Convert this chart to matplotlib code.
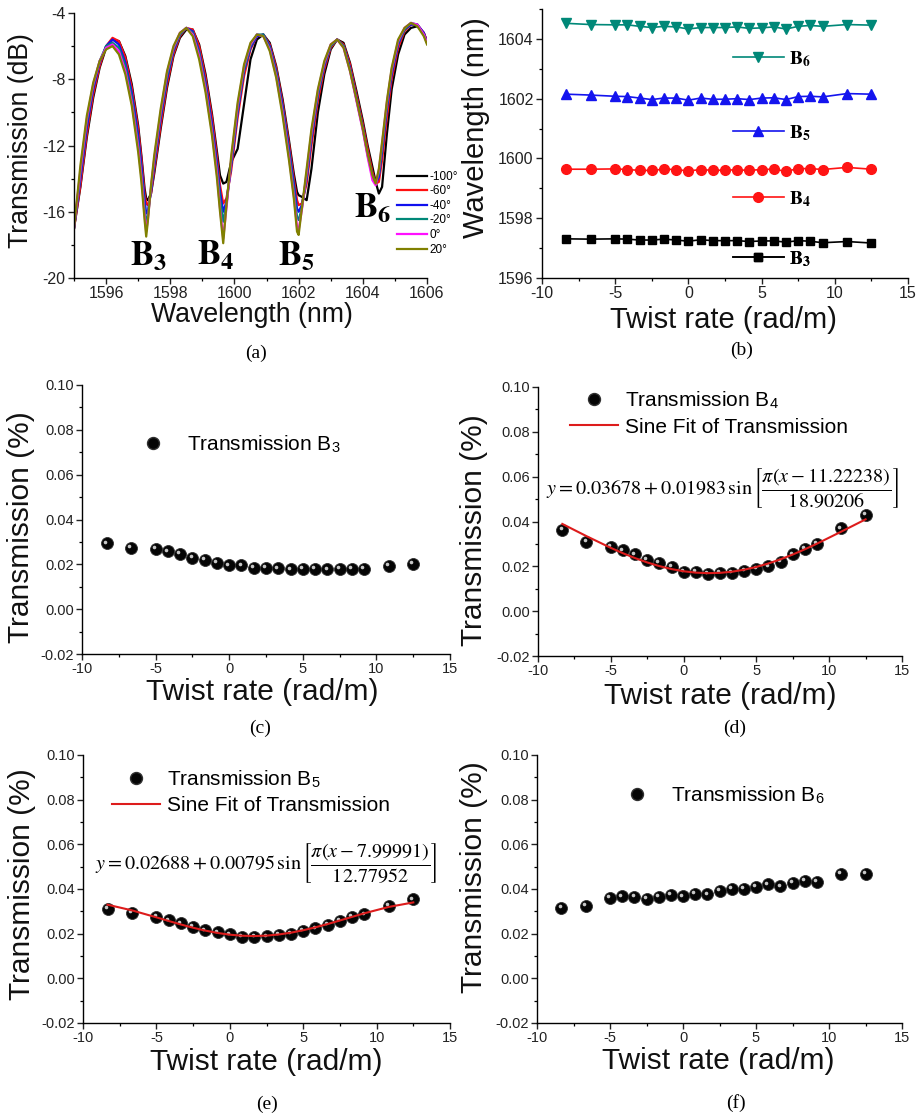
import matplotlib
matplotlib.use("Agg")
import numpy as np
import matplotlib.pyplot as plt
from matplotlib.lines import Line2D
from matplotlib.ticker import MultipleLocator, FormatStrFormatter
from matplotlib.transforms import offset_copy

plt.rcParams["font.family"] = ["Liberation Sans", "DejaVu Sans"]
plt.rcParams["mathtext.fontset"] = "stix"
plt.rcParams["axes.unicode_minus"] = False

# (a) transmission spectra for several twist angles
wavelength = [1595.0, 1595.2, 1595.4, 1595.6, 1595.8, 1596.0, 1596.2, 1596.4, 1596.6, 1596.8,
              1597.0, 1597.1, 1597.2, 1597.25, 1597.3, 1597.4, 1597.5, 1597.7, 1597.9, 1598.1,
              1598.3, 1598.5, 1598.7, 1598.9, 1599.1, 1599.3, 1599.45, 1599.55, 1599.65, 1599.75,
              1599.9, 1600.1, 1600.3, 1600.5, 1600.7, 1600.9, 1601.1, 1601.3, 1601.5, 1601.7,
              1601.85, 1601.95, 1602.0, 1602.1, 1602.25, 1602.4, 1602.6, 1602.8, 1603.0, 1603.2,
              1603.4, 1603.6, 1603.8, 1604.0, 1604.15, 1604.3, 1604.4, 1604.5, 1604.6, 1604.75,
              1604.9, 1605.1, 1605.3, 1605.5, 1605.7, 1605.9, 1606.0]

t_m100 = [-17.0, -14.5, -11.5, -9.1, -7.3, -6.1, -5.6, -5.7, -6.6, -8.3,
          -10.8, -12.6, -14.6, -15.2, -15.3, -14.9, -13.7, -11.0, -8.5, -6.6,
          -5.5, -5.0, -5.0, -5.9, -7.7, -10.1, -12.3, -13.8, -14.3, -14.2,
          -13.0, -12.2, -9.5, -6.8, -5.6, -5.3, -5.8, -7.2, -9.2, -11.7,
          -13.7, -14.8, -15.0, -15.1, -15.3, -13.4, -10.0, -7.7, -6.2, -5.6,
          -5.8, -7.0, -8.7, -10.5, -12.0, -13.3, -14.2, -14.9, -14.5, -11.3,
          -8.6, -6.5, -5.3, -4.9, -4.8, -5.2, -5.7]
t_m60 = [-17.0, -14.4, -11.3, -8.9, -7.2, -6.0, -5.5, -5.7, -6.7, -8.5,
         -11.0, -12.8, -14.9, -15.5, -15.6, -14.9, -13.5, -10.8, -8.3, -6.5,
         -5.4, -4.9, -5.0, -6.0, -7.9, -10.3, -12.6, -14.4, -15.5, -15.2,
         -13.5, -10.3, -7.8, -6.2, -5.4, -5.3, -5.9, -7.3, -9.4, -11.9,
         -14.0, -15.3, -15.6, -15.5, -14.3, -12.0, -9.3, -7.4, -6.1, -5.6,
         -5.9, -7.1, -8.9, -10.7, -12.2, -13.6, -14.3, -14.2, -12.9, -10.3,
         -8.0, -6.1, -5.1, -4.7, -4.7, -5.2, -5.7]
t_m40 = [-17.0, -14.0, -10.9, -8.6, -7.0, -6.0, -5.6, -5.9, -7.0, -8.8,
         -11.4, -13.2, -15.3, -16.1, -16.0, -14.8, -13.2, -10.4, -8.0, -6.3,
         -5.3, -4.9, -5.1, -6.3, -8.2, -10.7, -13.0, -14.8, -16.0, -15.4,
         -13.2, -10.0, -7.5, -6.1, -5.4, -5.3, -6.0, -7.5, -9.6, -12.2,
         -14.3, -15.8, -16.0, -15.6, -14.0, -11.6, -9.0, -7.2, -6.0, -5.6,
         -6.0, -7.3, -9.1, -10.9, -12.5, -13.8, -14.3, -13.9, -12.4, -9.8,
         -7.7, -5.9, -5.0, -4.7, -4.7, -5.2, -5.8]
t_m20 = [-17.0, -13.7, -10.6, -8.4, -6.9, -6.0, -5.8, -6.1, -7.2, -9.1,
         -11.8, -13.6, -15.8, -16.6, -16.3, -14.6, -13.0, -10.2, -7.8, -6.2,
         -5.3, -4.9, -5.2, -6.4, -8.4, -11.0, -13.3, -15.2, -16.6, -15.6,
         -13.0, -9.8, -7.4, -6.0, -5.3, -5.3, -6.1, -7.6, -9.8, -12.4,
         -14.6, -16.3, -16.5, -15.8, -13.8, -11.4, -8.9, -7.1, -6.0, -5.6,
         -6.0, -7.4, -9.2, -11.0, -12.6, -13.9, -14.2, -13.7, -12.2, -9.6,
         -7.5, -5.8, -5.0, -4.6, -4.7, -5.3, -5.8]
t_0 = [-17.0, -13.5, -10.4, -8.3, -6.9, -6.1, -5.9, -6.3, -7.5, -9.4,
       -12.1, -13.9, -16.2, -17.2, -16.5, -14.5, -12.8, -10.0, -7.6, -6.1,
       -5.2, -4.9, -5.3, -6.6, -8.6, -11.2, -13.6, -15.8, -17.6, -15.8,
       -12.8, -9.6, -7.2, -5.9, -5.3, -5.4, -6.2, -7.8, -10.0, -12.7,
       -15.0, -16.9, -17.1, -15.9, -13.6, -11.2, -8.7, -7.0, -5.9, -5.6,
       -6.1, -7.5, -9.3, -11.1, -12.7, -14.1, -14.4, -13.5, -11.9, -9.4,
       -7.4, -5.7, -4.9, -4.6, -4.7, -5.3, -5.8]
t_20 = [-17.0, -13.2, -10.2, -8.2, -6.9, -6.2, -6.0, -6.5, -7.7, -9.6,
        -12.4, -14.2, -16.5, -17.5, -16.6, -14.4, -12.6, -9.8, -7.5, -6.0,
        -5.2, -4.9, -5.4, -6.8, -8.8, -11.4, -13.9, -16.0, -17.9, -15.6,
        -12.6, -9.4, -7.1, -5.8, -5.3, -5.4, -6.3, -7.9, -10.2, -12.9,
        -15.2, -17.2, -17.4, -15.8, -13.4, -11.0, -8.6, -6.9, -5.9, -5.6,
        -6.1, -7.5, -9.2, -11.0, -12.5, -13.8, -14.3, -13.4, -11.8, -9.3,
        -7.3, -5.6, -4.9, -4.6, -4.8, -5.4, -5.9]
spectra = [t_m100, t_m60, t_m40, t_m20, t_0, t_20]
angle_labels = ["-100°", "-60°", "-40°", "-20°", "0°", "20°"]
angle_colors = ["#000000", "#ff1010", "#1010ee", "#008878", "#ff10ff", "#808000"]

# (b)-(f) dip wavelength and dip transmission versus twist rate
twist = [-8.33, -6.67, -5.0, -4.17, -3.33, -2.5, -1.67, -0.83, 0.0, 0.83, 1.67,
         2.5, 3.33, 4.17, 5.0, 5.83, 6.67, 7.5, 8.33, 9.17, 10.83, 12.5]

dip_b6 = [1604.52, 1604.48, 1604.47, 1604.47, 1604.42, 1604.38, 1604.42, 1604.40, 1604.33, 1604.38, 1604.38,
          1604.38, 1604.40, 1604.35, 1604.37, 1604.40, 1604.33, 1604.42, 1604.45, 1604.42, 1604.48, 1604.46]
dip_b5 = [1602.15, 1602.12, 1602.08, 1602.07, 1602.02, 1601.97, 1602.02, 1602.02, 1601.95, 1602.02, 1601.98,
          1601.98, 1602.00, 1601.97, 1602.02, 1602.03, 1601.97, 1602.07, 1602.08, 1602.06, 1602.17, 1602.15]
dip_b4 = [1599.64, 1599.64, 1599.65, 1599.63, 1599.60, 1599.60, 1599.64, 1599.63, 1599.58, 1599.63, 1599.60,
          1599.61, 1599.62, 1599.60, 1599.63, 1599.64, 1599.57, 1599.66, 1599.66, 1599.63, 1599.70, 1599.64]
dip_b3 = [1597.31, 1597.30, 1597.31, 1597.30, 1597.27, 1597.27, 1597.30, 1597.27, 1597.23, 1597.28, 1597.25,
          1597.25, 1597.25, 1597.22, 1597.24, 1597.24, 1597.20, 1597.25, 1597.23, 1597.18, 1597.22, 1597.17]

trans_b3 = [0.0293, 0.0272, 0.0270, 0.0258, 0.0245, 0.0228, 0.0220, 0.0208, 0.0195, 0.0195, 0.0183,
            0.0185, 0.0182, 0.0177, 0.0178, 0.0178, 0.0177, 0.0180, 0.0180, 0.0178, 0.0192, 0.0201]
trans_b4 = [0.0363, 0.0310, 0.0286, 0.0271, 0.0253, 0.0230, 0.0215, 0.0197, 0.0176, 0.0176, 0.0167,
            0.0170, 0.0170, 0.0178, 0.0190, 0.0200, 0.0221, 0.0253, 0.0279, 0.0300, 0.0369, 0.0428]
trans_b5 = [0.0311, 0.0293, 0.0276, 0.0259, 0.0246, 0.0231, 0.0215, 0.0206, 0.0197, 0.0185, 0.0185,
            0.0188, 0.0193, 0.0200, 0.0212, 0.0224, 0.0239, 0.0256, 0.0276, 0.0286, 0.0324, 0.0353]
trans_b6 = [0.0315, 0.0325, 0.0360, 0.0367, 0.0363, 0.0357, 0.0366, 0.0373, 0.0367, 0.0378, 0.0376,
            0.0390, 0.0400, 0.0400, 0.0409, 0.0421, 0.0412, 0.0427, 0.0437, 0.0433, 0.0466, 0.0467]

# sine fit parameters y0, A, xc, w  ->  y = y0 + A*sin(pi*(x-xc)/w)
fit_b4 = (0.03678, 0.01983, 11.22238, 18.90206)
fit_b5 = (0.02688, 0.00795, 7.99991, 12.77952)

W, H = 919, 1113
fig = plt.figure(figsize=(W / 100, H / 100), dpi=100)


def box(left, top, right, bottom):
    return [left / W, 1 - bottom / H, (right - left) / W, (bottom - top) / H]


def style(ax, xmaj, xmin, ymaj, ymin, tick_fs):
    for s in ("top", "right"):
        ax.spines[s].set_visible(False)
    for s in ("left", "bottom"):
        ax.spines[s].set_linewidth(1.0)
    ax.xaxis.set_major_locator(MultipleLocator(xmaj))
    ax.xaxis.set_minor_locator(MultipleLocator(xmin))
    ax.yaxis.set_major_locator(MultipleLocator(ymaj))
    ax.yaxis.set_minor_locator(MultipleLocator(ymin))
    ax.tick_params(which="major", direction="out", length=4, width=1.0,
                   labelsize=tick_fs, pad=2, colors="#222222")
    ax.tick_params(which="minor", direction="out", length=2.3, width=0.9)
    ax.tick_params(axis="x", which="both", top=False)
    ax.tick_params(axis="y", which="both", right=False)


def labels(ax, xl, yl, fs, xpos, ypos):
    ax.set_xlabel(xl, fontsize=fs, color="#111111")
    ax.set_ylabel(yl, fontsize=fs, color="#111111")
    ax.xaxis.label.set_va("center")
    ax.yaxis.label.set_va("center")
    ax.xaxis.set_label_coords(*xpos)
    ax.yaxis.set_label_coords(*ypos)


def caption(x, y, s):
    fig.text(x / W, 1 - y / H, s, ha="center", va="center",
             family="Liberation Serif", fontsize=14)


def spheres(ax, x, y):
    ax.plot(x, y, ls="none", marker="o", ms=8.6, mfc="#050505", mec="#303030",
            mew=0.6, zorder=4)
    shine = offset_copy(ax.transData, fig=fig, x=-1.3, y=1.3, units="points")
    ax.plot(x, y, ls="none", marker="o", ms=2.6, mfc="#c8c8c8", mec="none",
            transform=shine, zorder=5)


# ---- (a)
ax = fig.add_axes(box(74, 13, 427, 278))
for vals, lab, col in zip(spectra, angle_labels, angle_colors):
    ax.plot(wavelength, vals, color=col, lw=1.6, label=lab)
ax.set_xlim(1595, 1606)
ax.set_ylim(-20, -4)
style(ax, 2, 1, 4, 2, 11.5)
labels(ax, "Wavelength (nm)", "Transmission (dB)", 19.2, (0.504, -0.14), (-0.15, 0.52))
ax.legend(loc="upper left", bbox_to_anchor=(0.915, 0.405), frameon=False, fontsize=8.5,
          handlelength=2.5, handletextpad=0.25, labelspacing=0.22, borderpad=0,
          borderaxespad=0)
for s, x, y in [("3", 1596.75, -19.2), ("4", 1598.84, -19.2), ("5", 1601.37, -19.2),
                ("6", 1603.72, -16.3)]:
    ax.text(x, y, r"$\mathbf{B_%s}$" % s, fontsize=25, ha="left", va="baseline")
caption(256, 353, "(a)")

# ---- (b)
ax = fig.add_axes(box(542, 9, 908, 278))
series_b = [(dip_b6, "#008878", "v", 7.0, "6", 0.814),
            (dip_b5, "#1414ee", "^", 7.0, "5", 0.539),
            (dip_b4, "#ff1414", "o", 7.0, "4", 0.294),
            (dip_b3, "#000000", "s", 6.0, "3", 0.071)]
for vals, col, mk, ms, s, ly in series_b:
    line, = ax.plot(twist, vals, color=col, lw=1.2, marker=mk, ms=ms, mec=col)
    leg = ax.legend([line], [r"$\mathbf{B_%s}$" % s], loc="center left",
                    bbox_to_anchor=(0.522, ly), frameon=False, fontsize=14,
                    handlelength=2.6, handletextpad=0.3, borderpad=0,
                    borderaxespad=0, numpoints=1)
    ax.add_artist(leg)
ax.set_xlim(-10, 15)
ax.set_ylim(1596, 1605)
style(ax, 5, 2.5, 2, 1, 11.5)
labels(ax, "Twist rate (rad/m)", "Wavelength (nm)", 21, (0.495, -0.156), (-0.18, 0.56))
caption(742, 350, "(b)")


def transmission_panel(rect, vals, band, fit, leg_anchor, leg_opts, eq_pos,
                       xpos, ypos, cap):
    ax = fig.add_axes(rect)
    spheres(ax, twist, vals)
    dot = Line2D([], [], ls="none", marker="o", ms=8.6, mfc="#050505", mec="#303030")
    handles = [dot]
    names = [r"Transmission B$_\mathregular{%s}$" % band]
    if fit is not None:
        y0, amp, xc, w = fit
        tw = np.array(twist)
        fit_line, = ax.plot(tw, y0 + amp * np.sin(np.pi * (tw - xc) / w),
                            color="#dd1c1c", lw=1.5, zorder=6)
        handles.append(fit_line)
        names.append("Sine Fit of Transmission")
        eq = (r"$y=%.5f+%.5f\,\sin\left[\dfrac{\pi(x-%.5f)}{%.5f}\right]$"
              % (y0, amp, xc, w))
        ax.text(eq_pos[0], eq_pos[1], eq, transform=ax.transAxes, fontsize=14.5,
                ha="center", va="center")
    ax.legend(handles, names, loc="upper left", bbox_to_anchor=leg_anchor,
              frameon=False, fontsize=15, borderpad=0, borderaxespad=0,
              numpoints=1, **leg_opts)
    ax.set_xlim(-10, 15)
    ax.set_ylim(-0.02, 0.10)
    style(ax, 5, 2.5, 0.02, 0.01, 10.5)
    ax.yaxis.set_major_formatter(FormatStrFormatter("%.2f"))
    labels(ax, "Twist rate (rad/m)", "Transmission (%)", 21.5, xpos, ypos)
    caption(*cap)


transmission_panel(box(82, 385, 450, 654), trans_b3, "3", None, (0.136, 0.82),
                   dict(handlelength=2.0, handletextpad=0.63), None,
                   (0.49, -0.141), (-0.165, 0.47), (260, 728, "(c)"))
transmission_panel(box(538, 387, 902, 656), trans_b4, "4", fit_b4, (0.088, 0.99),
                   dict(handlelength=2.3, handletextpad=0.34, labelspacing=0.3),
                   (0.505, 0.625), (0.5, -0.149), (-0.176, 0.468), (735, 728, "(d)"))
transmission_panel(box(83, 755, 450, 1023), trans_b5, "5", fit_b5, (0.079, 0.95),
                   dict(handlelength=2.3, handletextpad=0.34, labelspacing=0.3),
                   (0.5, 0.597), (0.5, -0.146), (-0.166, 0.52), (267, 1104, "(e)"))
transmission_panel(box(537, 755, 902, 1023), trans_b6, "6", None, (0.217, 0.89),
                   dict(handlelength=2.0, handletextpad=0.63), None,
                   (0.496, -0.142), (-0.173, 0.545), (736, 1103, "(f)"))

fig.savefig("out.png", dpi=100, facecolor="white")
